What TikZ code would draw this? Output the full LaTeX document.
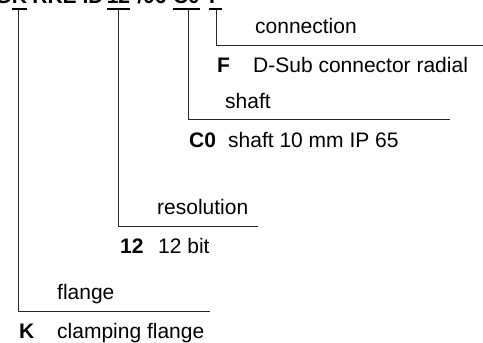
\documentclass[tikz,border=0pt]{standalone}
\usepackage{fontspec}
\setmainfont{Liberation Sans}
\begin{document}
\begin{tikzpicture}[x=1pt,y=-1pt,
  txt/.style={inner sep=0pt,anchor=base west,font=\fontsize{21}{24}\selectfont},
  codetxt/.style={txt,font=\fontsize{21}{24}\selectfont\bfseries},
  ttl/.style={inner sep=0pt,anchor=base,font=\fontsize{21}{24}\selectfont\bfseries},
  lead/.style={draw=black!85,line width=0.9pt},
  bar/.style={draw=black,line width=2pt}]
\useasboundingbox (0,0) rectangle (483,343);
\clip (0,0) rectangle (483,343);
% clipped title line
\coordinate (top) at (0,9);
\node[ttl] (tK) at (19.5,3) {K};
\node[ttl,anchor=base east] (tG) at (tK.base west) {G};
\node[ttl] (tR) at (68,3) {RKE ID};
\node[ttl] (t12) at (118.5,3) {12};
\node[ttl] (t06) at (152,3) {/06};
\node[ttl] (tC) at (186.5,3) {C0};
\node[ttl] (tF) at (215.5,3) {F};
% underlines
\draw[bar] (tK.base west |- top) -- (tK.base east |- top);
\draw[bar] (t12.base west |- top) -- (t12.base east |- top);
\draw[bar] (tC.base west |- top) -- (tC.base east |- top);
\draw[bar] (tF.base west |- top) -- (tF.base east |- top);
% corners and ends
\coordinate (cF) at (216,45);   \coordinate (eF) at (490,45);
\coordinate (cC) at (188.5,119); \coordinate (eC) at (450,119);
\coordinate (c12) at (118.5,226); \coordinate (e12) at (258,226);
\coordinate (cK) at (18,311);   \coordinate (eK) at (210,311);
\draw[lead] (cF |- top) -- (cF) -- (eF);
\draw[lead] (cC |- top) -- (cC) -- (eC);
\draw[lead] (c12 |- top) -- (c12) -- (e12);
\draw[lead] (cK |- top) -- (cK) -- (eK);
% F
\node[txt] (lF) at (255,33) {connection};
\node[codetxt] (kF) at (217,72) {F};
\node[txt] (dF) at (253,72) {D-Sub connector radial};
% C0
\node[txt] (lC) at (225,108) {shaft};
\node[codetxt] (kC) at (189,147) {C0};
\node[txt] (dC) at (228,147) {shaft 10 mm IP 65};
% 12
\node[txt] (l12) at (157,214) {resolution};
\node[codetxt] (k12) at (120,253) {12};
\node[txt] (d12) at (158,253) {12 bit};
% K
\node[txt] (lK) at (57,299) {flange};
\node[codetxt] (kK) at (19,338) {K};
\node[txt] (dK) at (57,338) {clamping flange};
\end{tikzpicture}
\end{document}
